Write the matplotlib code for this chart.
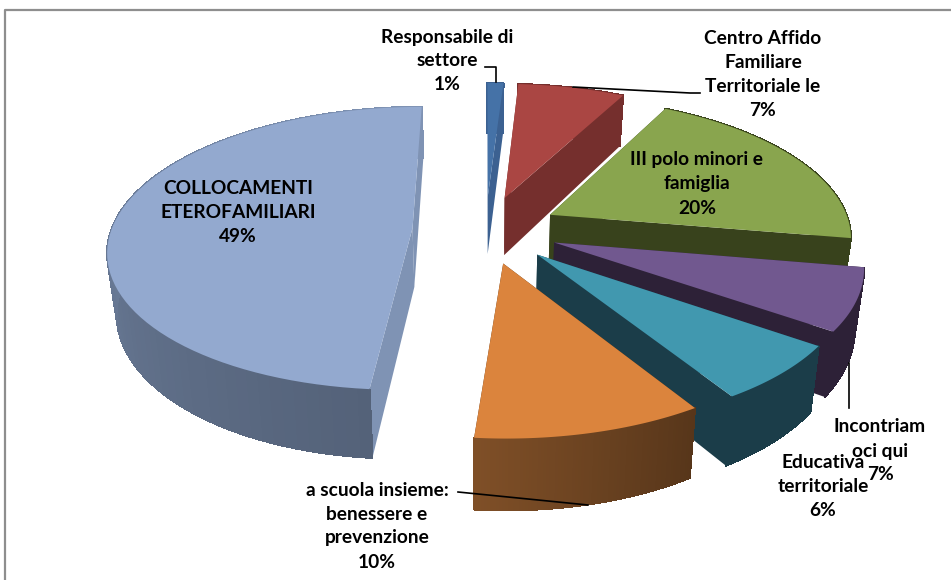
import numpy as np
import matplotlib
matplotlib.use('Agg')
import matplotlib.pyplot as plt
from matplotlib.patches import Polygon
from matplotlib.colors import to_rgb

names = ['Responsabile di\nsettore', 'Centro Affido\nFamiliare\nTerritoriale le', 'III polo minori e\nfamiglia',
         'Incontriam\noci qui', 'Educativa\nterritoriale', 'a scuola insieme:\nbenessere e\nprevenzione',
         'COLLOCAMENTI\nETEROFAMILIARI']
# labels show these rounded
values = [1.0, 6.7, 20.0, 7.0, 6.4, 10.3, 48.6]

top_colors = ['#4572a7', '#aa4643', '#89a54e', '#71588f', '#4198af', '#db843d', '#93a9cf']
side_colors = ['#3c6191', '#752f2d', '#38421c', '#2d2137', '#1b3d49', '#7f4f27', '#7f93b4']
side_end_colors = ['#3c6191', '#752f2d', '#38421c', '#2d2137', '#1b3d49', '#57361a', '#546279']
label_pos = [(447, 61), (763, 74), (697, 184), (880, 451), (823, 487), (377, 526), (238, 213)]

# fake 3d projection of the pie, pixels
cx, cy = 485.5, 229.5
rx, ry = 301, 139
persp = 0.144
explode = 0.243
depth = 59
shrink = 0.975


def project(x, y, bottom=False):
    s = 1 / (1 + persp * y)
    px = rx * x * s
    py = cy - ry * y * s
    if bottom:
        px = px * shrink
        py = py + depth * s
    return cx + px, py


fig = plt.figure()
fig.set_size_inches(9.51, 5.8)
ax = fig.add_axes([0, 0, 1, 1])
ax.set_xlim(0, 951)
ax.set_ylim(580, 0)
ax.axis('off')

fractions = np.array(values) / sum(values)
starts = np.concatenate([[0], np.cumsum(fractions)[:-1]]) * 2 * np.pi
ends = np.cumsum(fractions) * 2 * np.pi

# back slices first, the big one does not overlap anything
for i in range(len(values)):
    mid = (starts[i] + ends[i]) / 2
    ox, oy = explode * np.sin(mid), explode * np.cos(mid)
    t = np.linspace(starts[i], ends[i], 80)
    xs, ys = ox + np.sin(t), oy + np.cos(t)

    # cut faces
    for a in (starts[i], ends[i]):
        rim_x, rim_y = ox + np.sin(a), oy + np.cos(a)
        face = [project(rim_x, rim_y), project(ox, oy), project(ox, oy, True), project(rim_x, rim_y, True)]
        ax.add_patch(Polygon(face, facecolor=side_end_colors[i] if i == 5 else side_colors[i], edgecolor='none'))

    # outer wall, lighter on the left side of the rim
    c0, c1 = np.array(to_rgb(side_end_colors[i])), np.array(to_rgb(side_colors[i]))
    for j in range(len(t) - 1):
        f = j / (len(t) - 2)
        quad = [project(xs[j], ys[j]), project(xs[j + 1], ys[j + 1]),
                project(xs[j + 1], ys[j + 1], True), project(xs[j], ys[j], True)]
        col = tuple(c0 + (c1 - c0) * f)
        ax.add_patch(Polygon(quad, facecolor=col, edgecolor=col, linewidth=0.8, antialiased=False))

    # top face
    top = [project(ox, oy)] + [project(x, y) for x, y in zip(xs, ys)]
    ax.add_patch(Polygon(top, facecolor=top_colors[i], edgecolor='none'))

# leader lines
ax.plot([485, 496, 496], [67, 67, 82], color='black', lw=1.2)
ax.plot([573, 690, 700], [87, 93, 93], color='black', lw=1.2)
ax.plot([849, 849], [363, 408], color='black', lw=1.2)
ax.plot([458, 588], [492, 505], color='black', lw=1.2)

for name, value, pos in zip(names, values, label_pos):
    ax.text(pos[0], pos[1], f'{name}\n{round(value)}%', ha='center', va='center', family='Lato',
            fontweight='bold', fontsize=13.8, linespacing=1.5, color='black')

# chart border, cut by the screenshot on the right and bottom
ax.plot([5, 5, 951], [580, 10, 10], color='#8e8e8e', lw=1.6)

plt.savefig('out.png', dpi=100)
